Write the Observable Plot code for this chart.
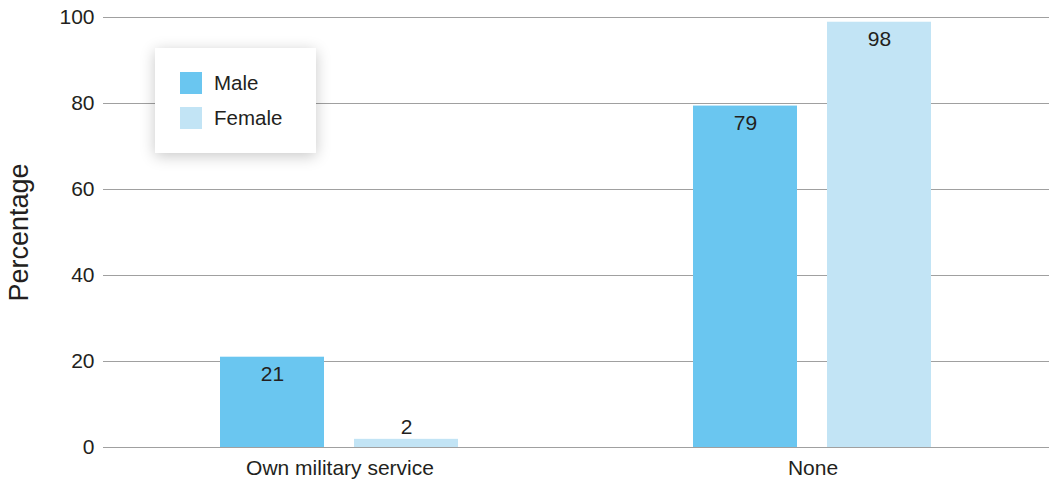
<!DOCTYPE html>
<html>
<head>
<meta charset="utf-8">
<script src="https://cdn.jsdelivr.net/npm/d3@7"></script>
<script src="https://cdn.jsdelivr.net/npm/@observablehq/plot@0.6"></script>
<style>
  html, body { margin: 0; padding: 0; background: #fff; }
  #wrap { position: relative; width: 1049px; height: 483px; font-family: "Liberation Sans", Arial, Helvetica, sans-serif; }
  #legend { position: absolute; left: 155px; top: 48px; width: 161px; height: 105px; background: #fff;
            box-shadow: 0 3px 14px rgba(0,0,0,0.22); box-sizing: border-box; padding: 24px 0 0 25px; }
  .item { display: flex; align-items: center; height: 22px; margin-bottom: 13px; font-size: 20.5px; color: #231f20; }
  .sw { width: 22px; height: 22px; margin-right: 12px; }
</style>
</head>
<body>
<div id="wrap"></div>
<script>
const categories = ["Own military service", "None"];
const series = ["Male", "Female"];
const maleValues = [21, 79.4];
const femaleValues = [1.9, 98.9];
const maleLabels = ["21", "79"];
const femaleLabels = ["2", "98"];
const seriesColors = ["#6AC6F0", "#C2E4F5"];
const yTicks = [0, 20, 40, 60, 80, 100];
const yLabel = "Percentage";

const rows = [];
categories.forEach((c, i) => {
  rows.push({category: c, sex: series[0], value: maleValues[i], label: maleLabels[i]});
  rows.push({category: c, sex: series[1], value: femaleValues[i], label: femaleLabels[i]});
});

const textColor = "#231f20";
const chart = Plot.plot({
  width: 1049,
  height: 483,
  marginLeft: 102,
  marginRight: 0,
  marginTop: 17,
  marginBottom: 36,
  style: {fontFamily: '"Liberation Sans", Arial, Helvetica, sans-serif', fontSize: "21px", color: textColor, background: "transparent"},
  fx: {domain: categories, padding: 0, label: null},
  x: {domain: series, paddingInner: 0.222, paddingOuter: 0.865, axis: null},
  y: {domain: [0, 100], label: null},
  color: {domain: series, range: seriesColors},
  marks: [
    Plot.gridY(yTicks, {stroke: "#a0a0a0", strokeOpacity: 1}),
    Plot.barY(rows, {fx: "category", x: "sex", y: "value", fill: "sex"}),
    Plot.text(rows.filter(d => d.value >= 10), {fx: "category", x: "sex", y: "value", text: "label", dy: 17, fontSize: 21, fill: textColor}),
    Plot.text(rows.filter(d => d.value < 10), {fx: "category", x: "sex", y: "value", text: "label", dy: -12, fontSize: 21, fill: textColor}),
    Plot.axisY(yTicks, {tickSize: 0, tickPadding: 9, label: null, fontSize: 21, fill: textColor}),
    Plot.axisY(yTicks, {tickSize: 0, tickFormat: () => "", label: yLabel, labelAnchor: "center", labelOffset: 95, labelArrow: "none", fontSize: 27, fill: textColor}),
    Plot.axisFx({anchor: "bottom", tickSize: 0, tickPadding: 13, label: null, fontSize: 21, fill: textColor})
  ]
});

const wrap = document.getElementById("wrap");
wrap.appendChild(chart);

const legend = document.createElement("div");
legend.id = "legend";
series.forEach((s, i) => {
  const item = document.createElement("div");
  item.className = "item";
  const sw = document.createElement("span");
  sw.className = "sw";
  sw.style.background = seriesColors[i];
  const t = document.createElement("span");
  t.textContent = s;
  item.appendChild(sw);
  item.appendChild(t);
  legend.appendChild(item);
});
wrap.appendChild(legend);
</script>
</body>
</html>
